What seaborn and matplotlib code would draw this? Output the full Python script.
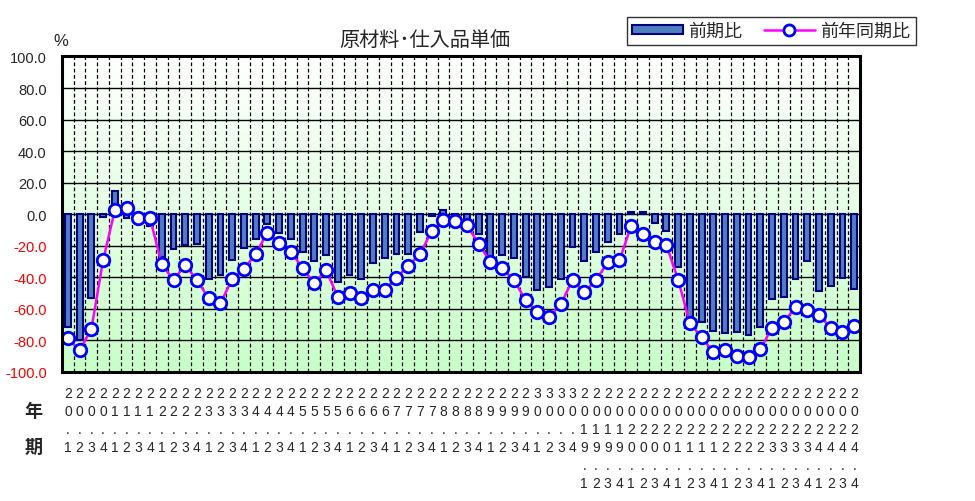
import numpy as np
import pandas as pd
import matplotlib.pyplot as plt
from matplotlib.colors import LinearSegmentedColormap
from matplotlib.patches import Patch
from matplotlib.lines import Line2D
import seaborn as sns

# ==============================
# データ
# ==============================
years = ["20", "21", "22", "23", "24", "25", "26", "27", "28", "29", "30",
         "2019", "2020", "2021", "2022", "2023", "2024"]
quarters = ["1", "2", "3", "4"]
periods = [f"{y}.{q}" for y in years for q in quarters]

# 前期比 (棒)
qoq = [-71.5, -80.0, -53.3, -1.5, 14.8, -2.3, -1.0, -7.4,
       -26.9, -22.2, -19.5, -19.0, -41.3, -38.7, -29.2, -21.2,
       -15.9, -5.9, -11.9, -15.9, -23.9, -29.6, -25.8, -43.0,
       -38.7, -40.8, -31.1, -27.9, -25.0, -25.4, -11.2, -1.0,
       2.8, -2.0, -4.0, -12.7, -28.6, -26.0, -27.5, -39.6,
       -48.0, -45.9, -41.3, -20.7, -29.6, -23.9, -17.6, -12.5,
       1.7, 1.7, -5.7, -10.8, -33.7, -65.0, -68.4, -74.1,
       -75.6, -74.9, -76.6, -71.5, -54.0, -52.5, -41.3, -29.6,
       -48.7, -45.5, -40.6, -47.6]

# 前年同期比 (折れ線)
yoy = [-78.7, -86.3, -72.8, -29.2, 2.5, 4.2, -2.5, -2.5,
       -31.7, -41.7, -32.2, -41.9, -53.3, -56.3, -41.3, -34.7,
       -25.2, -11.6, -18.0, -23.7, -34.3, -43.8, -35.3, -52.5,
       -50.2, -53.3, -48.0, -47.8, -40.2, -32.6, -25.4, -10.6,
       -3.6, -4.0, -7.0, -18.6, -30.3, -34.3, -41.7, -54.4,
       -62.0, -65.2, -57.1, -41.7, -49.3, -41.9, -30.3, -29.2,
       -7.4, -12.3, -17.5, -19.5, -41.5, -69.2, -77.9, -87.4,
       -86.3, -90.0, -90.6, -85.5, -72.0, -68.4, -58.8, -60.7,
       -63.9, -72.0, -74.7, -70.9]

y_ticks = [100, 80, 60, 40, 20, 0, -20, -40, -60, -80, -100]

df = pd.DataFrame({"period": periods, "qoq": qoq, "yoy": yoy})
df["pos"] = np.arange(len(df))

# ==============================
# 描画
# ==============================
sns.set_style("white")
plt.rcParams["font.family"] = ["Noto Sans CJK JP", "DejaVu Sans"]
plt.rcParams["axes.unicode_minus"] = False

fig = plt.figure(figsize=(9.75, 5.02), dpi=100)
ax = fig.add_axes([0.0636, 0.257, 0.8185, 0.6285])

n = len(df)

# 背景グラデーション (上:白 → 下:薄緑)
cmap = LinearSegmentedColormap.from_list("bg", ["#ffffff", "#c8ffc8"])
grad = np.linspace(0, 1, 256).reshape(-1, 1)
ax.imshow(grad, extent=[-0.5, n - 0.5, -100, 100], cmap=cmap,
          aspect="auto", zorder=0, origin="upper")

# グリッド
for yv in y_ticks[1:-1]:
    ax.axhline(yv, color="black", lw=1.0, zorder=1)
for xv in np.arange(0.5, n - 0.5, 1):
    ax.axvline(xv, color="black", lw=0.9, ls=(0, (3, 2)), zorder=1)

sns.barplot(data=df, x="period", y="qoq", color="#4f7fbf", width=0.5,
            edgecolor="#000080", linewidth=1.5, saturation=1, ax=ax,
            zorder=2)

sns.lineplot(data=df, x="pos", y="yoy", color="#ff00ff", lw=1.8,
             marker="o", markersize=9, markerfacecolor="white",
             markeredgecolor="#0000ff", markeredgewidth=2, ax=ax, zorder=3)

ax.set_xlim(-0.5, n - 0.5)
ax.set_ylim(-100, 100)

# 目盛り
ax.set_xticks(df["pos"])
ax.set_xticklabels(["\n".join(list(p)) for p in periods], fontsize=10,
                   linespacing=1.36, va="top", family=["Liberation Sans"])
ax.set_yticks(y_ticks)
ax.set_yticklabels([f"{v:.1f}" for v in y_ticks], fontsize=10.5,
                   family=["Liberation Sans"])
for lab, v in zip(ax.get_yticklabels(), y_ticks):
    if v < 0:
        lab.set_color("red")
ax.tick_params(axis="x", length=0, pad=10)
ax.tick_params(axis="y", length=0, pad=11)
ax.set_xlabel("")
ax.set_ylabel("")

for sp in ax.spines.values():
    sp.set_visible(True)
    sp.set_color("black")
    sp.set_linewidth(2.2)
    sp.set_zorder(5)

# タイトル・注記
fig.text(0.436, 0.92, "原材料･仕入品単価", ha="center", va="center",
         fontsize=14.5)
fig.text(0.062, 0.917, "%", ha="center", va="center", fontsize=12,
         family=["Liberation Sans"])
fig.text(0.034, 0.181, "年", ha="center", va="center", fontsize=13,
         fontweight="bold")
fig.text(0.034, 0.109, "期", ha="center", va="center", fontsize=13,
         fontweight="bold")

# 凡例
handles = [
    Patch(facecolor="#4f7fbf", edgecolor="#000080", linewidth=1.5),
    Line2D([0], [0], color="#ff00ff", lw=1.8, marker="o", markersize=8,
           markerfacecolor="white", markeredgecolor="#0000ff",
           markeredgewidth=2),
]
leg = fig.legend(handles, ["前期比", "前年同期比"], loc="upper right",
                 bbox_to_anchor=(0.939, 0.965), ncol=2, fontsize=13,
                 frameon=True, fancybox=False, edgecolor="black",
                 handlelength=2.8, handleheight=0.45, columnspacing=1.2,
                 borderpad=0.3, handletextpad=0.3, borderaxespad=0)
leg.get_frame().set_linewidth(1.0)

plt.savefig("out.png", dpi=100)
plt.close()
